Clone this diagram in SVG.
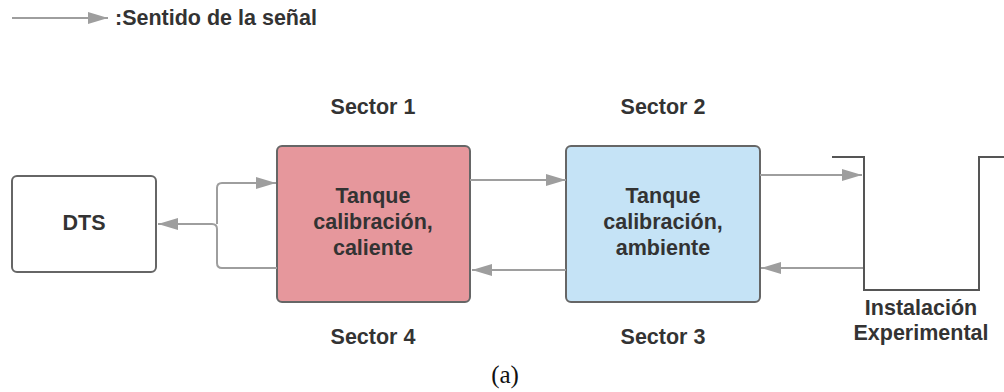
<svg xmlns="http://www.w3.org/2000/svg" width="1004" height="392" viewBox="0 0 1004 392">
<style>
.box{stroke:#666;stroke-width:2}
.lbl{font-family:"Liberation Sans",Arial,sans-serif;font-weight:bold;font-size:21.5px;fill:#333;text-anchor:middle}
.con{fill:none;stroke:#9e9e9e;stroke-width:2}
</style>
<defs>
<marker id="ah" markerWidth="20" markerHeight="12" refX="20" refY="6" orient="auto" markerUnits="userSpaceOnUse">
<path d="M0,0 L20,6 L0,12 Z" fill="#9e9e9e"/>
</marker>
</defs>
<rect width="1004" height="392" fill="#fff"/>
<g id="legend">
<line x1="12" y1="18" x2="108" y2="18" class="con" marker-end="url(#ah)"/>
<text x="115" y="25" class="lbl" style="text-anchor:start">:Sentido de la señal</text>
</g>
<g id="dts">
<rect x="12" y="176" width="144" height="96" rx="5" fill="#fff" class="box"/>
<text x="84" y="230" class="lbl">DTS</text>
</g>
<g id="tanque-caliente">
<rect x="277" y="146" width="193" height="156" rx="5" fill="#e6979c" class="box"/>
<text x="373" y="203" class="lbl">Tanque</text>
<text x="373" y="229" class="lbl">calibración,</text>
<text x="373" y="255" class="lbl">caliente</text>
</g>
<g id="tanque-ambiente">
<rect x="566" y="146" width="194" height="156" rx="5" fill="#c5e3f6" class="box"/>
<text x="663" y="203" class="lbl">Tanque</text>
<text x="663" y="229" class="lbl">calibración,</text>
<text x="663" y="255" class="lbl">ambiente</text>
</g>
<g id="instalacion">
<polyline points="832,157 864,157 864,290 979,290 979,157 1004,157" fill="none" stroke="#555" stroke-width="2"/>
<text x="921" y="315" class="lbl">Instalación</text>
<text x="921" y="340" class="lbl">Experimental</text>
</g>
<g id="sectors">
<text x="373" y="114" class="lbl">Sector 1</text>
<text x="663" y="114" class="lbl">Sector 2</text>
<text x="663" y="344" class="lbl">Sector 3</text>
<text x="373" y="344" class="lbl">Sector 4</text>
</g>
<g id="connectors">
<path d="M277,268 L222,268 Q217,268 217,263 L217,229 Q217,224 212,224 L158,224" class="con" marker-end="url(#ah)"/>
<path d="M217,224 Q217,224 217,219 L217,188 Q217,183 222,183 L276,183" class="con" marker-end="url(#ah)"/>
<line x1="470" y1="180" x2="566" y2="180" class="con" marker-end="url(#ah)"/>
<line x1="566" y1="270" x2="472" y2="270" class="con" marker-end="url(#ah)"/>
<line x1="760" y1="175" x2="862" y2="175" class="con" marker-end="url(#ah)"/>
<line x1="863" y1="268" x2="761" y2="268" class="con" marker-end="url(#ah)"/>
</g>
<text x="505" y="383" font-family="Liberation Serif,'Times New Roman',serif" font-size="25" fill="#111" text-anchor="middle">(a)</text>
</svg>
